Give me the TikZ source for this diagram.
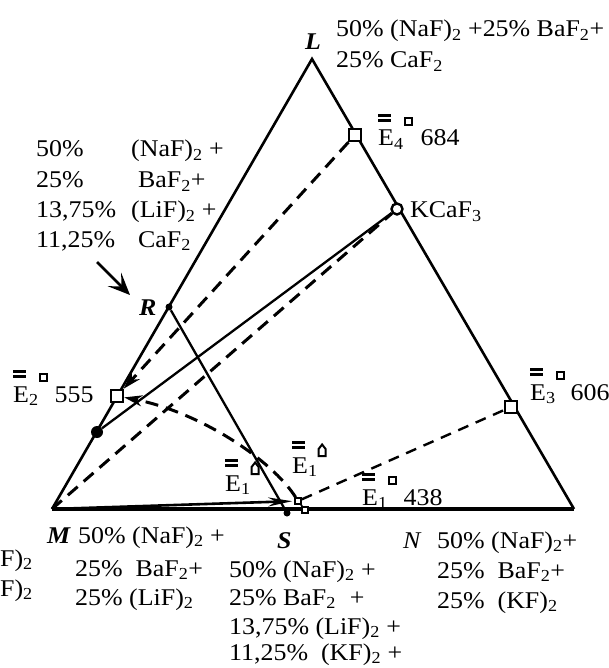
\documentclass[tikz,border=0pt]{standalone}
\usepackage{fontspec}
\setmainfont{Liberation Serif}[FakeStretch=1.08]
\usetikzlibrary{arrows.meta,backgrounds}
\newcommand\mysqsym{\tikz[baseline=0pt,x=1pt,y=1pt]\draw[line width=2pt,solid] (1,21) rectangle (8,28);}
\newcommand\myhousesym{\tikz[baseline=0pt,x=1pt,y=1pt]\draw[line width=2pt,solid,line join=miter] (1,17)--(1,24)--(4.5,28.5)--(8,24)--(8,17)--cycle;}
\newcommand\myEE[1]{\rlap{\raisebox{24pt}{\rule{12.5pt}{2.8pt}}}\rlap{\raisebox{29pt}{\rule{12.5pt}{2.8pt}}}E\textsubscript{#1}}
\begin{document}
\begin{tikzpicture}[x=1pt,y=-1pt,font=\fontsize{24}{28}\selectfont,
  edge/.style={line width=2.6pt},
  inner/.style={line width=2.3pt},
  dsh/.style={line width=3pt,dash pattern=on 13pt off 8pt},
  hsq/.style={rectangle,draw,fill=white,line width=2.4pt,minimum size=12pt,inner sep=0pt},
  ssq/.style={rectangle,draw,fill=white,line width=1.6pt,minimum size=6pt,inner sep=0pt},
  hcirc/.style={circle,draw,fill=white,line width=2.4pt,minimum size=11pt,inner sep=0pt},
  sdot/.style={circle,fill,inner sep=0pt,minimum size=7pt},
  bdot/.style={circle,fill,inner sep=0pt,minimum size=12pt},
  txt/.style={anchor=base west,inner sep=0pt}]
\useasboundingbox (0,0) rectangle (609,668);
\coordinate (L) at (312,59);
\coordinate (M) at (52,509);
\coordinate (N) at (574,509);
\node[sdot] (R) at (169,307) {};
\node[bdot] (P) at (97,432) {};
\node[sdot] (S) at (287,513) {};
\node[hsq] (E4) at (355,135) {};
\node[hcirc] (K) at (397,209) {};
\node[hsq] (E3) at (511,407) {};
\node[hsq] (E2) at (117,396) {};
\node[ssq] (E1a) at (298,501) {};
\node[ssq] (E1b) at (305,510) {};
\coordinate (a1) at (97,262);
\coordinate (a2) at (130,295);
\begin{pgfonlayer}{background}
\draw[edge,line join=miter] (M) -- (L) -- (N);
\draw[line width=3.2pt] (M) -- (N);
\draw[inner] (R) -- (S);
\draw[inner] (P) -- (K);
\draw[dsh] (M) -- (K);
\draw[dsh,-{Stealth[length=18pt,width=11pt]}] (E4) -- (E2);
\draw[dsh,-{Stealth[length=18pt,width=11pt]}] (E1a) .. controls (272,460) and (200,412) .. (E2);
\draw[line width=2.4pt,dash pattern=on 11pt off 8pt] (E1a) -- (E3);
\draw[line width=2.6pt,-{Stealth[length=24pt,width=9pt]},shorten >=2pt] (M) -- (E1a);
\draw[line width=1.8pt] (E1a) -- (E1b);
\draw[line width=2.6pt,-{Stealth[length=22pt,width=19pt,inset=10pt]}] (a1) -- (a2);
\end{pgfonlayer}
% labels
\node[txt] (Ll) at (305,50) {\textbf{\textit{L}}};
\node[txt] (t1) at (336,37) {50\% (NaF)\textsubscript{2} +25\% BaF\textsubscript{2}+};
\node[txt] (t2) at (336,68) {25\% CaF\textsubscript{2}};
\node[txt] (la1) at (36,157) {50\%};
\node[txt] (lb1) at (131,157) {(NaF)\textsubscript{2} +};
\node[txt] (la2) at (36,188) {25\%};
\node[txt] (lb2) at (138,188) {BaF\textsubscript{2}+};
\node[txt] (la3) at (36,218) {13,75\%};
\node[txt] (lb3) at (131,218) {(LiF)\textsubscript{2} +};
\node[txt] (la4) at (36,247) {11,25\%};
\node[txt] (lb4) at (138,247) {CaF\textsubscript{2}};
\node[txt] (E4l) at (378,146) {\myEE{4}\mysqsym\hspace{8pt}684};
\node[txt] (Kl) at (410,218) {KCaF\textsubscript{3}};
\node[txt] (E3l) at (530,400) {\myEE{3}\mysqsym\hspace{6pt}606};
\node[txt] (E1l) at (362,505) {\myEE{1}\mysqsym\hspace{7pt}438};
\node[txt] (E1u) at (292,473) {\myEE{1}\myhousesym};
\node[txt] (E1w) at (225,491) {\myEE{1}\myhousesym};
\node[txt] (E2l) at (13,402) {\myEE{2}\mysqsym\hspace{7pt}555};
\node[txt] (Rl) at (139,315) {\textbf{\textit{R}}};
\node[txt] (Ml) at (47,543) {\textbf{\textit{M}}};
\node[txt] (m1) at (78,543) {50\% (NaF)\textsubscript{2} +};
\node[txt] (m2) at (75,576) {25\%\ \ BaF\textsubscript{2}+};
\node[txt] (m3) at (75,605) {25\% (LiF)\textsubscript{2}};
\node[txt] (Sl) at (277,548) {\textbf{\textit{S}}};
\node[txt] (s1) at (229,577) {50\% (NaF)\textsubscript{2} +};
\node[txt] (s2) at (229,605) {25\% BaF\textsubscript{2}\hspace{14pt}+};
\node[txt] (s3) at (229,634) {13,75\% (LiF)\textsubscript{2} +};
\node[txt] (s4) at (229,660) {11,25\%\ \ (KF)\textsubscript{2} +};
\node[txt] (Nl) at (403,548) {\textit{N}};
\node[txt] (n1) at (437,548) {50\% (NaF)\textsubscript{2}+};
\node[txt] (n2) at (437,578) {25\%\ \ BaF\textsubscript{2}+};
\node[txt] (n3) at (437,608) {25\%\ \ (KF)\textsubscript{2}};
\node[txt] (c1) at (0,566) {F)\textsubscript{2}};
\node[txt] (c2) at (0,596) {F)\textsubscript{2}};
\end{tikzpicture}
\end{document}
